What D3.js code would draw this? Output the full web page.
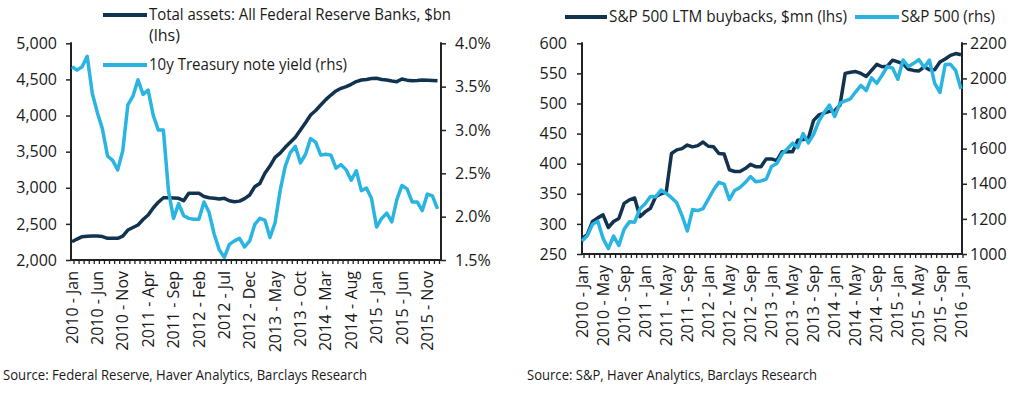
<!DOCTYPE html>
<html>
<head>
<meta charset="utf-8">
<script src="https://cdn.jsdelivr.net/npm/d3@7"></script>
<style>
  body { margin: 0; background: #fff; }
  svg text { font-family: "Open Sans", "Noto Sans", sans-serif; fill: #1a1a1a; }
</style>
</head>
<body>
<div id="chart"></div>
<script>
// months Jan 2010 .. Jan 2016 (73 points)
var monthNames = ["Jan", "Feb", "Mar", "Apr", "May", "Jun", "Jul", "Aug", "Sep", "Oct", "Nov", "Dec"];
var months = d3.range(73).map(function (i) { return (2010 + Math.floor(i / 12)) + " - " + monthNames[i % 12]; });

// Total assets: All Federal Reserve Banks, $bn
var fedAssets = [2253, 2290, 2323, 2330, 2332, 2332, 2325, 2300, 2300, 2300, 2330, 2415,
  2450, 2485, 2560, 2623, 2720, 2800, 2862, 2862, 2858, 2854, 2821, 2923,
  2923, 2923, 2880, 2862, 2855, 2845, 2854, 2820, 2807, 2815, 2850, 2900,
  3015, 3060, 3200, 3300, 3420, 3480, 3560, 3630, 3700, 3800, 3900, 4008,
  4070, 4146, 4220, 4284, 4340, 4377, 4400, 4432, 4470, 4492, 4500, 4512,
  4515, 4500, 4492, 4478, 4469, 4506, 4490, 4482, 4485, 4492, 4488, 4485,
  4482];

// 10y Treasury note yield, %
var tsyYield = [3.73, 3.69, 3.73, 3.85, 3.42, 3.20, 3.01, 2.70, 2.65, 2.54, 2.76, 3.29,
  3.39, 3.58, 3.41, 3.46, 3.17, 3.00, 3.00, 2.30, 1.98, 2.15, 2.01, 1.98,
  1.97, 1.97, 2.17, 2.05, 1.80, 1.62, 1.53, 1.68, 1.72, 1.75, 1.65, 1.72,
  1.91, 1.98, 1.96, 1.76, 1.93, 2.30, 2.58, 2.74, 2.81, 2.62, 2.72, 2.90,
  2.86, 2.71, 2.72, 2.71, 2.56, 2.60, 2.54, 2.42, 2.53, 2.30, 2.33, 2.21,
  1.88, 1.98, 2.04, 1.94, 2.20, 2.36, 2.32, 2.17, 2.17, 2.07, 2.26, 2.24,
  2.09];

// S&P 500 LTM buybacks
var buybacks = [276, 282, 304, 310, 315, 294, 304, 309, 334, 340, 343, 312,
  320, 326, 345, 350, 353, 417, 423, 425, 431, 428, 430, 436,
  429, 428, 417, 416, 390, 387, 387, 392, 399, 395, 395, 408,
  408, 405, 420, 420, 420, 439, 440, 442, 472, 481, 484, 487,
  488, 497, 550, 552, 553, 550, 545, 555, 565, 561, 562, 572,
  569, 566, 557, 555, 554, 561, 556, 556, 569, 574, 580, 583,
  581];

// S&P 500 index
var spx = [1074, 1104, 1169, 1187, 1089, 1031, 1102, 1049, 1141, 1183, 1181, 1258,
  1286, 1327, 1326, 1364, 1345, 1321, 1292, 1219, 1131, 1253, 1247, 1258,
  1312, 1366, 1408, 1398, 1310, 1362, 1379, 1407, 1441, 1412, 1416, 1426,
  1498, 1515, 1569, 1598, 1631, 1606, 1686, 1633, 1682, 1757, 1806, 1848,
  1783, 1859, 1872, 1884, 1924, 1960, 1931, 2003, 1972, 2018, 2068, 2059,
  1995, 2105, 2068, 2086, 2107, 2063, 2104, 1972, 1920, 2079, 2080, 2044,
  1940];

var fedTickLabels = ["2010 - Jan", "2010 - Jun", "2010 - Nov", "2011 - Apr", "2011 - Sep",
  "2012 - Feb", "2012 - Jul", "2012 - Dec", "2013 - May", "2013 - Oct", "2014 - Mar",
  "2014 - Aug", "2015 - Jan", "2015 - Jun", "2015 - Nov"];
var spxTickLabels = ["2010 - Jan", "2010 - May", "2010 - Sep", "2011 - Jan", "2011 - May",
  "2011 - Sep", "2012 - Jan", "2012 - May", "2012 - Sep", "2013 - Jan", "2013 - May",
  "2013 - Sep", "2014 - Jan", "2014 - May", "2014 - Sep", "2015 - Jan", "2015 - May",
  "2015 - Sep", "2016 - Jan"];

var fedLeftTicks = [2000, 2500, 3000, 3500, 4000, 4500, 5000];
var fedRightTicks = [1.5, 2.0, 2.5, 3.0, 3.5, 4.0];
var spxLeftTicks = [250, 300, 350, 400, 450, 500, 550, 600];
var spxRightTicks = [1000, 1200, 1400, 1600, 1800, 2000, 2200];

var darkBlue = "#12334f";
var lightBlue = "#29b4e2";

var svg = d3.select("#chart").append("svg")
    .attr("width", 1024)
    .attr("height", 394);

function drawPanel(p) {
    var g = svg.append("g");

    var x = d3.scalePoint().domain(months).range([p.x0, p.x1]);
    var yL = d3.scaleLinear().domain(p.leftDomain).range([p.bottom, p.top]);
    var yR = d3.scaleLinear().domain(p.rightDomain).range([p.bottom, p.top]);

    // left axis
    var left = g.append("g")
        .attr("transform", "translate(" + p.axisLeft + ",0)")
        .call(d3.axisLeft(yL).tickValues(p.leftTicks).tickFormat(p.leftFormat)
            .tickSizeOuter(0).tickSize(5).tickPadding(p.leftPad));
    // right axis
    var right = g.append("g")
        .attr("transform", "translate(" + p.axisRight + ",0)")
        .call(d3.axisRight(yR).tickValues(p.rightTicks).tickFormat(p.rightFormat)
            .tickSizeOuter(0).tickSize(5).tickPadding(p.rightPad));
    [left, right].forEach(function (a) {
        a.select(".domain").remove();
        a.selectAll("line").attr("stroke", "#222").attr("stroke-width", 1.5);
        a.selectAll("text").style("font-size", "16px").attr("fill", "#1a1a1a");
    });
    g.append("line")
        .attr("x1", p.axisLeft).attr("x2", p.axisLeft)
        .attr("y1", p.top - 1).attr("y2", p.bottom)
        .attr("stroke", "#222").attr("stroke-width", 2);
    g.append("line")
        .attr("x1", p.axisRight).attr("x2", p.axisRight)
        .attr("y1", p.top - 1).attr("y2", p.bottom)
        .attr("stroke", "#222").attr("stroke-width", 2);

    // bottom axis: monthly ticks
    g.append("line")
        .attr("x1", p.axisLeft).attr("x2", p.axisRight)
        .attr("y1", p.bottom).attr("y2", p.bottom)
        .attr("stroke", "#222").attr("stroke-width", 2);
    g.append("g")
        .selectAll("line")
        .data(months)
        .enter()
        .append("line")
        .attr("x1", function (d) { return x(d) + p.tickShift; })
        .attr("x2", function (d) { return x(d) + p.tickShift; })
        .attr("y1", p.bottom)
        .attr("y2", p.bottom + 4)
        .attr("stroke", "#222")
        .attr("stroke-width", 1.3);

    g.append("g")
        .selectAll("text")
        .data(p.tickLabels)
        .enter()
        .append("text")
        .attr("transform", function (d) { return "translate(" + x(d) + "," + (p.bottom + 11) + ") rotate(-90)"; })
        .attr("text-anchor", "end")
        .attr("dy", "0.35em")
        .style("font-size", "16px")
        .text(function (d) { return d; });

    // lines
    var lineL = d3.line()
        .x(function (d, i) { return x(months[i]); })
        .y(function (d) { return yL(d); });
    var lineR = d3.line()
        .x(function (d, i) { return x(months[i]); })
        .y(function (d) { return yR(d); });

    g.append("path")
        .datum(p.leftSeries)
        .attr("d", lineL)
        .attr("fill", "none")
        .attr("stroke", darkBlue)
        .attr("stroke-width", 3.5)
        .attr("stroke-linejoin", "round");
    g.append("path")
        .datum(p.rightSeries)
        .attr("d", lineR)
        .attr("fill", "none")
        .attr("stroke", lightBlue)
        .attr("stroke-width", 3.5)
        .attr("stroke-linejoin", "round");

    // legend
    p.legend.forEach(function (l) {
        g.append("line")
            .attr("x1", l.x1).attr("x2", l.x2)
            .attr("y1", l.y).attr("y2", l.y)
            .attr("stroke", l.color)
            .attr("stroke-width", 4);
        l.lines.forEach(function (t, k) {
            var txt = g.append("text")
                .attr("x", l.x2 + 2)
                .attr("y", l.y + 5 + k * 21)
                .style("font-size", "16px")
                .text(t.text);
            if (t.w) txt.attr("textLength", t.w).attr("lengthAdjust", "spacingAndGlyphs");
        });
    });

    // source
    g.append("text")
        .attr("x", p.sourceX)
        .attr("y", 380)
        .style("font-size", "15px")
        .attr("textLength", p.sourceW)
        .attr("lengthAdjust", "spacingAndGlyphs")
        .text(p.source);
}

drawPanel({
    x0: 72, x1: 437.5, axisLeft: 71, axisRight: 441, top: 43.3, bottom: 260,
    tickShift: 2,
    leftDomain: [2000, 5000], rightDomain: [1.5, 4.0],
    leftTicks: fedLeftTicks, rightTicks: fedRightTicks,
    leftFormat: d3.format(","), rightFormat: function (d) { return d.toFixed(1) + "%"; },
    leftPad: 9, rightPad: 9,
    leftSeries: fedAssets, rightSeries: tsyYield,
    tickLabels: fedTickLabels,
    legend: [
        { x1: 103, x2: 147, y: 15, color: darkBlue,
          lines: [{ text: "Total assets: All Federal Reserve Banks, $bn", w: 302 }, { text: "(lhs)" }] },
        { x1: 103, x2: 147, y: 65, color: lightBlue,
          lines: [{ text: "10y Treasury note yield (rhs)", w: 198 }] }
    ],
    source: "Source: Federal Reserve, Haver Analytics, Barclays Research",
    sourceX: 3, sourceW: 364
});

drawPanel({
    x0: 582, x1: 961, axisLeft: 582, axisRight: 962, top: 43.3, bottom: 254,
    tickShift: 2,
    leftDomain: [250, 600], rightDomain: [1000, 2200],
    leftTicks: spxLeftTicks, rightTicks: spxRightTicks,
    leftFormat: d3.format("d"), rightFormat: d3.format("d"),
    leftPad: 10, rightPad: 3,
    leftSeries: buybacks, rightSeries: spx,
    tickLabels: spxTickLabels,
    legend: [
        { x1: 565, x2: 607, y: 17, color: darkBlue,
          lines: [{ text: "S&P 500 LTM buybacks, $mn (lhs)", w: 238 }] },
        { x1: 855, x2: 899, y: 17, color: lightBlue,
          lines: [{ text: "S&P 500 (rhs)", w: 94 }] }
    ],
    source: "Source: S&P, Haver Analytics, Barclays Research",
    sourceX: 527, sourceW: 290
});
</script>
</body>
</html>
